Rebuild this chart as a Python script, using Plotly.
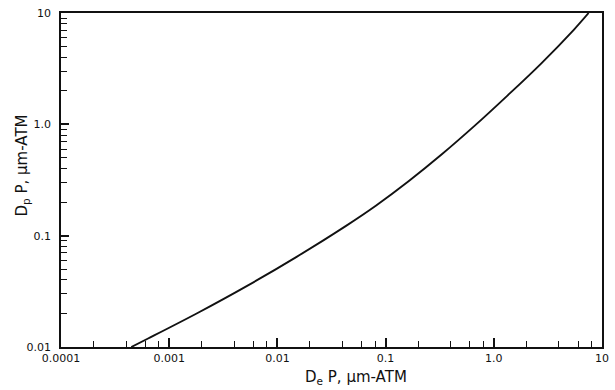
import plotly.graph_objects as go

# Curve data (De*P vs Dp*P, um-ATM)
de_p = [0.000446, 0.000638, 0.00183, 0.00525, 0.01505, 0.0431, 0.0812,
        0.163, 0.333, 0.667, 1.337, 2.737, 5.486, 7.52]
dp_p = [0.0100, 0.01192, 0.0202, 0.0354, 0.0645, 0.1225, 0.1857,
        0.308, 0.541, 0.973, 1.812, 3.515, 7.063, 10.0]

x_tickvals = [0.0001, 0.001, 0.01, 0.1, 1, 10]
x_ticktext = ["0.0001", "0.001", "0.01", "0.1", "1.0", "10"]
y_tickvals = [0.01, 0.1, 1, 10]
y_ticktext = ["0.01", "0.1", "1.0", "10"]

x_title = "D<sub>e</sub> P, µm-ATM"
y_title = "D<sub>p</sub> P, µm-ATM"

x_minor = [m * d for d in [0.0001, 0.001, 0.01, 0.1, 1] for m in (2, 4, 6, 8)]
y_minor = [m * d for d in [0.01, 0.1, 1] for m in range(2, 10)]

fig = go.Figure()
fig.add_trace(go.Scatter(x=de_p, y=dp_p, mode="lines",
                         line=dict(color="#111", width=1.9, shape="spline", smoothing=1.0),
                         hoverinfo="skip", showlegend=False))

axis_font = dict(family="DejaVu Sans, sans-serif", size=11, color="#111")
title_font = dict(family="DejaVu Sans, sans-serif", size=15, color="#111")

fig.update_xaxes(type="log", range=[-4, 1], showgrid=False, zeroline=False,
                 showline=True, linecolor="#111", linewidth=1.8, mirror=True,
                 ticks="inside", ticklen=9, tickwidth=1.6, tickcolor="#111",
                 tickmode="array", tickvals=x_tickvals, ticktext=x_ticktext,
                 tickfont=axis_font, ticklabelstandoff=0,
                 minor=dict(ticks="inside", ticklen=6, tickwidth=1.4, tickcolor="#111",
                            tickmode="array", tickvals=x_minor, showgrid=False))
fig.update_yaxes(type="log", range=[-2, 1], showgrid=False, zeroline=False,
                 showline=True, linecolor="#111", linewidth=1.8, mirror=True,
                 ticks="inside", ticklen=8, tickwidth=1.6, tickcolor="#111",
                 tickmode="array", tickvals=y_tickvals, ticktext=y_ticktext,
                 tickfont=axis_font, ticklabelstandoff=6,
                 minor=dict(ticks="inside", ticklen=6, tickwidth=1.2, tickcolor="#111",
                            tickmode="array", tickvals=y_minor, showgrid=False))

fig.add_annotation(text=x_title, xref="paper", yref="paper",
                   x=(360 - 61) / (609 - 61), y=-(378 - 347) / (347 - 13),
                   xanchor="center", yanchor="middle", showarrow=False, font=title_font)
fig.add_annotation(text=y_title, xref="paper", yref="paper",
                   x=-(61 - 21) / (609 - 61), y=(347 - 166) / (347 - 13),
                   xanchor="center", yanchor="middle", textangle=-90,
                   showarrow=False, font=title_font)

fig.update_layout(width=615, height=390, margin=dict(l=61, r=6, t=13, b=43),
                  paper_bgcolor="white", plot_bgcolor="white")

fig.write_html("out.html")
